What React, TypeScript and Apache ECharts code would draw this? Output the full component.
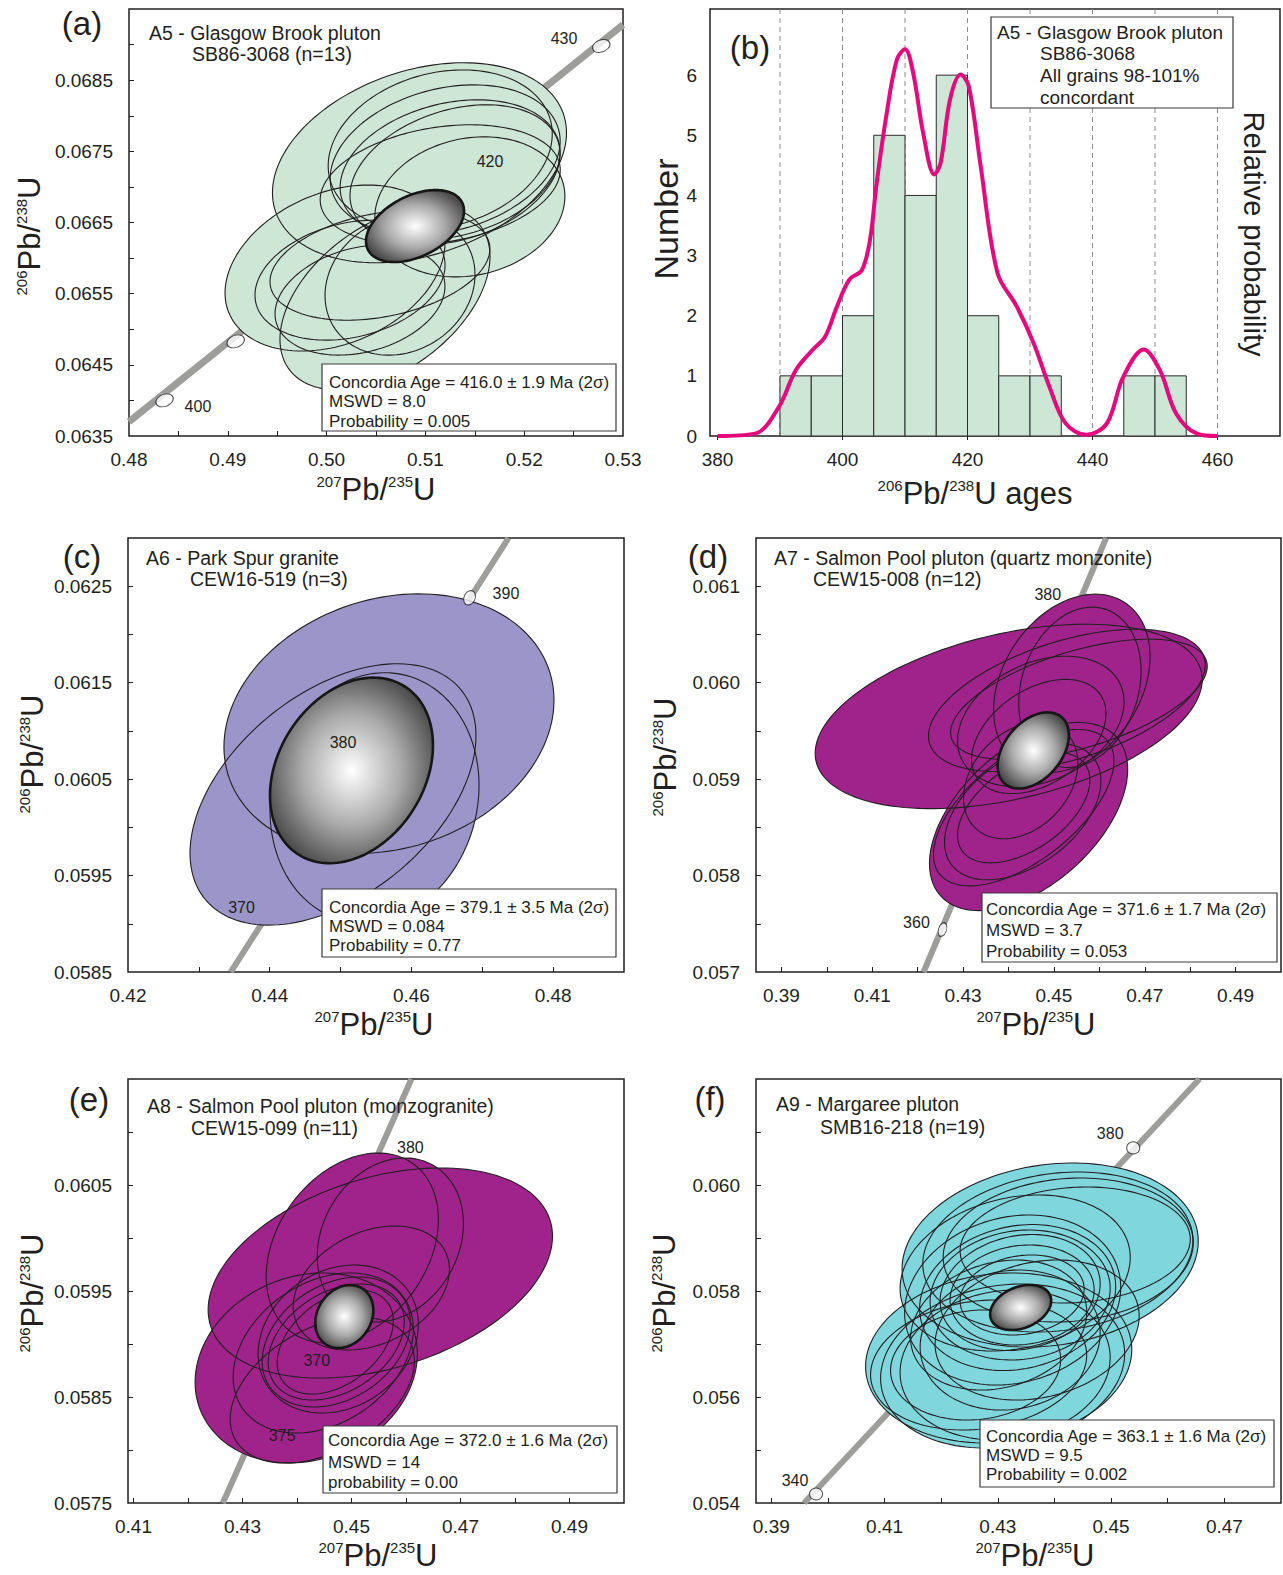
import React, { useEffect, useRef } from 'react';
import * as echarts from 'echarts';

const FONT = '"Liberation Sans", Arial, Helvetica, sans-serif';
const INK = '#231f20';
const GREY_LINE = '#9d9d9c';
const FILL_A = '#cde6d5';
const FILL_C = '#9b95c9';
const FILL_DE = '#a0228b';
const FILL_F = '#7fd7dd';
const PROB_COLOR = '#e4097d';

// ---------------- panel (a) ----------------
const xLabelsA = [0.48, 0.49, 0.5, 0.51, 0.52, 0.53];
const xTicksA = [0.485, 0.49, 0.495, 0.5, 0.505, 0.51, 0.515, 0.52, 0.525];
const yLabelsA = [0.0635, 0.0645, 0.0655, 0.0665, 0.0675, 0.0685];
const yTicksA = [0.064, 0.0645, 0.065, 0.0655, 0.066, 0.0665, 0.067, 0.0675, 0.068, 0.0685, 0.069];
// [centre 207/235, centre 206/238, half-width, half-height, correlation]
const ellipsesA = [
  [0.5094, 0.06734, 0.01488, 0.001405, 0.3],
  [0.5115, 0.06752, 0.01134, 0.001124, 0.2],
  [0.512, 0.06738, 0.01164, 0.001054, 0.25],
  [0.5125, 0.06724, 0.01113, 0.000984, 0.25],
  [0.513, 0.06717, 0.01063, 0.000984, 0.3],
  [0.5115, 0.06703, 0.01215, 0.000843, 0.25],
  [0.5145, 0.06672, 0.00962, 0.000984, 0.15],
  [0.50085, 0.06586, 0.01113, 0.001166, 0.3],
  [0.50591, 0.06544, 0.01063, 0.001293, 0.45],
  [0.50237, 0.06569, 0.00962, 0.000843, 0.25],
  [0.5054, 0.0659, 0.01113, 0.000773, 0.3],
  [0.50743, 0.06562, 0.00759, 0.000984, 0.15],
  [0.50338, 0.06541, 0.0086, 0.000773, 0.25],
];
const meanA = [[0.50895, 0.06645, 0.00496, 0.000506, 0.42]];
const concordiaA = [[0.48, 0.0637], [0.53, 0.06928]];
const markersA = [[0.4836, 0.064], [0.4908, 0.06483], [0.5278, 0.06898]];
const ageLabelsA = [
  { age: '400', x: 0.48698, y: 0.06391 },
  { age: '430', x: 0.52403, y: 0.06909 },
  { age: '420', x: 0.51654, y: 0.06736 },
];

// ---------------- panel (b) ----------------
const xLabelsB = [380, 400, 420, 440, 460];
const yLabelsB = [0, 1, 2, 3, 4, 5, 6];
const guideAgesB = [390, 400, 410, 420, 430, 440, 450, 460];
const binWidthB = 5;
const binStartsB = [390, 395, 400, 405, 410, 415, 420, 425, 430, 445, 450];
const countsB = [1, 1, 2, 5, 4, 6, 2, 1, 1, 1, 1];
const probAgesB = [380, 386, 389.8, 392.5, 395.2, 397.2, 399.1, 401.1, 403.1, 404.4, 405.4, 407, 408.7, 410, 411.3, 412.9, 414.7, 415.7, 417.2, 418.9, 420.2, 422.1, 424.8, 427.9, 430.6, 433.1, 435.7, 439, 442.3, 444.9, 448.2, 450.8, 453.4, 456.7, 460];
const probValuesB = [0, 0.04, 0.48, 1.09, 1.43, 1.65, 2.15, 2.6, 2.76, 3.26, 4.15, 5.32, 6.26, 6.43, 6.04, 5.04, 4.35, 4.54, 5.59, 6.01, 5.82, 4.49, 2.71, 2.15, 1.54, 0.82, 0.21, 0.02, 0.21, 0.98, 1.44, 1.09, 0.37, 0.04, 0];

// ---------------- panel (c) ----------------
const xLabelsC = [0.42, 0.44, 0.46, 0.48];
const xTicksC = [0.43, 0.44, 0.45, 0.46, 0.47, 0.48];
const yLabelsC = [0.0585, 0.0595, 0.0605, 0.0615, 0.0625];
const yTicksC = [0.059, 0.0595, 0.06, 0.0605, 0.061, 0.0615, 0.062, 0.0625];
const ellipsesC = [
  [0.45683, 0.061076, 0.02329, 0.001345, 0.18],
  [0.44893, 0.060341, 0.02018, 0.001355, 0.45],
  [0.45479, 0.060305, 0.01475, 0.001298, 0.1],
];
const meanC = [[0.45154, 0.06059, 0.0115, 0.000962, 0.27]];
const concordiaC = [[0.4345, 0.0585], [0.4737, 0.063]];
const markersC = [[0.4682, 0.06238]];
const ageLabelsC = [
  { age: '390', x: 0.47334, y: 0.06242 },
  { age: '380', x: 0.45034, y: 0.06088 },
  { age: '370', x: 0.43602, y: 0.05917 },
];

// ---------------- panel (d) ----------------
const xLabelsD = [0.39, 0.41, 0.43, 0.45, 0.47, 0.49];
const xTicksD = [0.39, 0.4, 0.41, 0.42, 0.43, 0.44, 0.45, 0.46, 0.47, 0.48, 0.49];
const yLabelsD = [0.057, 0.058, 0.059, 0.06, 0.061];
const yTicksD = [0.0575, 0.058, 0.0585, 0.059, 0.0595, 0.06, 0.0605, 0.061];
const ellipsesD = [
  [0.44004, 0.05965, 0.04261, 0.000956, 0.4],
  [0.45285, 0.059816, 0.03047, 0.000738, 0.5],
  [0.4555, 0.059827, 0.02826, 0.000624, 0.55],
  [0.45395, 0.059993, 0.01722, 0.000925, 0.3],
  [0.45572, 0.059952, 0.01347, 0.000831, 0.2],
  [0.44711, 0.059598, 0.01833, 0.000676, 0.3],
  [0.44667, 0.059442, 0.01479, 0.000592, 0.4],
  [0.44442, 0.058612, 0.02182, 0.000976, 0.5],
  [0.44335, 0.058704, 0.01987, 0.000811, 0.6],
  [0.44313, 0.058663, 0.01722, 0.000707, 0.45],
  [0.44335, 0.058704, 0.01457, 0.000572, 0.5],
  [0.44269, 0.058985, 0.01259, 0.000603, 0.3],
];
const meanD = [[0.44545, 0.059297, 0.00784, 0.000395, 0.4]];
const concordiaD = [[0.4213, 0.057], [0.4615, 0.0615]];
const markersD = [[0.42547, 0.05744]];
const ageLabelsD = [
  { age: '380', x: 0.44865, y: 0.06091 },
  { age: '360', x: 0.41973, y: 0.05751 },
];

// ---------------- panel (e) ----------------
const xLabelsE = [0.41, 0.43, 0.45, 0.47, 0.49];
const xTicksE = [0.41, 0.42, 0.43, 0.44, 0.45, 0.46, 0.47, 0.48, 0.49];
const yLabelsE = [0.0575, 0.0585, 0.0595, 0.0605];
const yTicksE = [0.058, 0.0585, 0.059, 0.0595, 0.06, 0.0605, 0.061];
const ellipsesE = [
  [0.45529, 0.05967, 0.03159, 0.000991, 0.35],
  [0.4417, 0.058774, 0.02039, 0.000896, 0.15],
  [0.45015, 0.059906, 0.0158, 0.000896, 0.3],
  [0.45713, 0.059981, 0.01341, 0.000774, 0.2],
  [0.45364, 0.059528, 0.01433, 0.000585, 0.3],
  [0.44757, 0.059047, 0.0147, 0.000698, 0.2],
  [0.44482, 0.058915, 0.01653, 0.000755, 0.3],
  [0.44721, 0.059019, 0.01359, 0.000613, 0.3],
  [0.44721, 0.059019, 0.01249, 0.000547, 0.35],
  [0.44702, 0.059019, 0.01065, 0.000491, 0.4],
  [0.44464, 0.058566, 0.0169, 0.000689, 0.4],
];
const meanE = [[0.44868, 0.059259, 0.00533, 0.000297, 0.2]];
const concordiaE = [[0.4264, 0.0575], [0.461, 0.0615]];
const markersE: number[][] = [];
const ageLabelsE = [
  { age: '380', x: 0.4608, y: 0.06085 },
  { age: '370', x: 0.44363, y: 0.05884 },
  { age: '375', x: 0.43729, y: 0.05814 },
];

// ---------------- panel (f) ----------------
const xLabelsF = [0.39, 0.41, 0.43, 0.45, 0.47];
const xTicksF = [0.39, 0.4, 0.41, 0.42, 0.43, 0.44, 0.45, 0.46, 0.47];
const yLabelsF = [0.054, 0.056, 0.058, 0.06];
const yTicksF = [0.055, 0.056, 0.057, 0.058, 0.059, 0.06, 0.061];
const ellipsesF = [
  [0.43924, 0.058679, 0.02615, 0.001736, 0.15],
  [0.4406, 0.058736, 0.02385, 0.001509, 0.15],
  [0.44243, 0.058774, 0.02208, 0.001358, 0.1],
  [0.44366, 0.058868, 0.02032, 0.001094, 0.1],
  [0.43306, 0.05834, 0.02032, 0.001472, 0.2],
  [0.43262, 0.05783, 0.01908, 0.001604, 0.15],
  [0.4335, 0.057877, 0.01731, 0.001377, 0.15],
  [0.43394, 0.057925, 0.0159, 0.001226, 0.1],
  [0.43394, 0.057972, 0.01413, 0.001094, 0.15],
  [0.43429, 0.057925, 0.01272, 0.000943, 0.1],
  [0.43429, 0.057925, 0.01095, 0.000755, 0.15],
  [0.43015, 0.057358, 0.01555, 0.001226, 0.2],
  [0.43015, 0.056736, 0.0235, 0.001604, 0.1],
  [0.43085, 0.056585, 0.02155, 0.001547, 0.15],
  [0.43129, 0.056604, 0.01855, 0.001415, 0.1],
  [0.42661, 0.056604, 0.01908, 0.001226, 0.15],
  [0.42608, 0.056604, 0.01502, 0.001038, 0.1],
  [0.43218, 0.057075, 0.0159, 0.001321, 0.1],
  [0.43694, 0.057264, 0.01802, 0.001321, 0.2],
];
const meanF = [[0.43403, 0.057689, 0.00539, 0.000425, 0.3]];
const concordiaF = [[0.3958, 0.054], [0.4656, 0.062]];
const markersF = [[0.3979, 0.05417], [0.45391, 0.0607]];
const ageLabelsF = [
  { age: '380', x: 0.44984, y: 0.06098 },
  { age: '340', x: 0.39419, y: 0.05442 },
];

// ---------------- helpers ----------------
function ellipseSeries(idx: number, data: number[][], style: any, z: number, gradient = false) {
  return {
    type: 'custom',
    xAxisIndex: idx,
    yAxisIndex: idx,
    z,
    silent: true,
    data,
    renderItem: (_params: any, api: any) => {
      const cx = api.value(0);
      const cy = api.value(1);
      const sx = api.value(2);
      const sy = api.value(3);
      const r = api.value(4);
      const k = Math.sqrt(Math.max(0, 1 - r * r));
      const points: number[][] = [];
      const N = 144;
      for (let i = 0; i < N; i++) {
        const t = (i / N) * Math.PI * 2;
        points.push(api.coord([cx + sx * Math.cos(t), cy + sy * (r * Math.cos(t) + k * Math.sin(t))]));
      }
      const st = gradient
        ? {
            ...style,
            fill: new echarts.graphic.RadialGradient(0.5, 0.5, 0.55, [
              { offset: 0, color: '#ffffff' },
              { offset: 0.55, color: '#aaaaaa' },
              { offset: 1, color: '#4d4d4d' },
            ]),
          }
        : style;
      return { type: 'polygon', shape: { points }, style: st };
    },
  };
}

function concordiaSeries(idx: number, p: any) {
  const list: any[] = [
    {
      type: 'line', xAxisIndex: idx, yAxisIndex: idx, data: p.line, symbol: 'none', silent: true, z: 1,
      lineStyle: { color: GREY_LINE, width: p.lineWidth }, clip: true,
    },
    ellipseSeries(idx, p.ellipses, { fill: p.fill, stroke: 'none' }, 3),
    ellipseSeries(idx, p.ellipses, { fill: 'none', stroke: INK, lineWidth: 1.1 }, 4),
    ellipseSeries(idx, p.mean, { stroke: '#161616', lineWidth: 2.6 }, 5, true),
    {
      type: 'scatter', xAxisIndex: idx, yAxisIndex: idx, data: p.markers, silent: true, z: 6,
      symbol: 'circle', symbolSize: p.markerSize, symbolRotate: p.markerRotate,
      itemStyle: { color: '#ffffff', borderColor: INK, borderWidth: 1 },
    },
    {
      type: 'custom', xAxisIndex: idx, yAxisIndex: idx, silent: true, z: 7,
      data: p.labels.map((l: any) => [l.x, l.y]),
      renderItem: (params: any, api: any) => {
        const pt = api.coord([api.value(0), api.value(1)]);
        return {
          type: 'text',
          x: pt[0],
          y: pt[1],
          style: {
            text: p.labels[params.dataIndex].age,
            fontSize: 16,
            fontFamily: FONT,
            fill: INK,
            align: 'center',
            verticalAlign: 'middle',
            textAlign: 'center',
            textVerticalAlign: 'middle',
          },
        };
      },
    },
  ];
  return list;
}

function axis(gi: number, min: number, max: number, ticks: number[], labels: number[], dec: number, margin: number, inside = true, tickLen = 5) {
  return {
    type: 'value',
    gridIndex: gi,
    min,
    max,
    axisLine: { show: false },
    splitLine: { show: false },
    axisTick: { show: ticks.length > 0, inside, length: tickLen, customValues: ticks, lineStyle: { color: INK, width: 1 } },
    axisLabel: {
      customValues: labels,
      formatter: (v: number) => v.toFixed(dec),
      fontSize: 19,
      fontFamily: FONT,
      color: INK,
      margin,
      showMinLabel: true,
      showMaxLabel: true,
    },
  };
}

function txt(x: number, y: number, text: string, size: number, align = 'left', rotation = 0) {
  return {
    type: 'text', x, y, rotation, z: 40, silent: true,
    style: {
      text, fontSize: size, fontFamily: FONT, fill: INK,
      align, verticalAlign: 'middle', textAlign: align, textVerticalAlign: 'middle',
    },
  };
}

function axisTitle(x: number, y: number, a: string, b: string, tail = '', rotation = 0) {
  return {
    type: 'text', x, y, rotation, z: 40, silent: true,
    style: {
      text: `{s|${a}}{b|Pb/}{s|${b}}{b|U${tail}}`,
      rich: {
        s: { fontSize: 15, fontFamily: FONT, fill: INK, color: INK, verticalAlign: 'top' },
        b: { fontSize: 31, fontFamily: FONT, fill: INK, color: INK, verticalAlign: 'bottom' },
      },
      fontFamily: FONT,
      align: 'center', verticalAlign: 'middle', textAlign: 'center', textVerticalAlign: 'middle',
    },
  };
}

function statBox(x: number, y: number, w: number, h: number, tx: number, ty: number[], lines: string[]) {
  return [
    { type: 'rect', z: 35, silent: true, shape: { x, y, width: w, height: h }, style: { fill: '#ffffff', stroke: '#3a3a3a', lineWidth: 1.2 } },
    ...lines.map((l, i) => txt(tx, ty[i], l, 17)),
  ];
}

function buildOption() {
  const gridBase = { show: true, borderColor: INK, borderWidth: 1.5, backgroundColor: 'transparent', containLabel: false };
  const grid = [
    { left: 129, top: 9, width: 494, height: 427 },
    { left: 710, top: 9, width: 570, height: 427 },
    { left: 128, top: 538, width: 496, height: 434 },
    { left: 756, top: 538, width: 525, height: 434 },
    { left: 128, top: 1079, width: 496, height: 424 },
    { left: 756, top: 1079, width: 525, height: 424 },
  ].map((g) => ({ ...gridBase, ...g }));

  const xAxis = [
    axis(0, 0.48, 0.53, xTicksA, xLabelsA, 2, 14),
    axis(1, 378.8, 470, xLabelsB, xLabelsB, 0, 14, false, 4),
    axis(2, 0.42, 0.49, xTicksC, xLabelsC, 2, 14),
    axis(3, 0.3844, 0.5, xTicksD, xLabelsD, 2, 14),
    axis(4, 0.409, 0.5, xTicksE, xLabelsE, 2, 14),
    axis(5, 0.3873, 0.48, xTicksF, xLabelsF, 2, 14),
  ];
  const yAxis = [
    axis(0, 0.0635, 0.0695, yTicksA, yLabelsA, 4, 16),
    axis(1, 0, 7.1, [], yLabelsB, 0, 13),
    axis(2, 0.0585, 0.063, yTicksC, yLabelsC, 4, 16),
    axis(3, 0.057, 0.0615, yTicksD, yLabelsD, 3, 16),
    axis(4, 0.0575, 0.0615, yTicksE, yLabelsE, 4, 16),
    axis(5, 0.054, 0.062, yTicksF, yLabelsF, 3, 16),
  ];

  const series: any[] = [
    ...concordiaSeries(0, { line: concordiaA, lineWidth: 7, ellipses: ellipsesA, mean: meanA, fill: FILL_A, markers: markersA, markerSize: [18, 12], markerRotate: 22, labels: ageLabelsA }),
    ...concordiaSeries(2, { line: concordiaC, lineWidth: 6, ellipses: ellipsesC, mean: meanC, fill: FILL_C, markers: markersC, markerSize: [11, 15], markerRotate: -25, labels: ageLabelsC }),
    ...concordiaSeries(3, { line: concordiaD, lineWidth: 6, ellipses: ellipsesD, mean: meanD, fill: FILL_DE, markers: markersD, markerSize: [8, 14], markerRotate: -18, labels: ageLabelsD }),
    ...concordiaSeries(4, { line: concordiaE, lineWidth: 6, ellipses: ellipsesE, mean: meanE, fill: FILL_DE, markers: markersE, markerSize: [10, 10], markerRotate: 0, labels: ageLabelsE }),
    ...concordiaSeries(5, { line: concordiaF, lineWidth: 6, ellipses: ellipsesF, mean: meanF, fill: FILL_F, markers: markersF, markerSize: [13, 12], markerRotate: 0, labels: ageLabelsF }),
    // panel (b)
    {
      type: 'custom', xAxisIndex: 1, yAxisIndex: 1, z: 1, silent: true,
      data: guideAgesB.map((a) => [a, 0]),
      renderItem: (params: any, api: any) => {
        const px = api.coord([api.value(0), 0])[0];
        const cs = params.coordSys;
        return {
          type: 'line',
          shape: { x1: px, y1: cs.y, x2: px, y2: cs.y + cs.height },
          style: { stroke: '#8c8c8c', lineWidth: 1, lineDash: [5, 4] },
        };
      },
    },
    {
      type: 'custom', xAxisIndex: 1, yAxisIndex: 1, z: 3, silent: true,
      data: binStartsB.map((s, i) => [s, s + binWidthB, countsB[i]]),
      renderItem: (_params: any, api: any) => {
        const p0 = api.coord([api.value(0), api.value(2)]);
        const p1 = api.coord([api.value(1), 0]);
        return {
          type: 'rect',
          shape: { x: p0[0], y: p0[1], width: p1[0] - p0[0], height: p1[1] - p0[1] },
          style: { fill: FILL_A, stroke: '#2b2b2b', lineWidth: 1 },
        };
      },
    },
    {
      type: 'line', xAxisIndex: 1, yAxisIndex: 1, z: 5, silent: true, symbol: 'none', smooth: 0.35,
      data: probAgesB.map((a, i) => [a, probValuesB[i]]),
      lineStyle: { color: PROB_COLOR, width: 4 },
    },
  ];

  const graphic: any[] = [
    // (a)
    txt(82, 23, '(a)', 33, 'center'),
    txt(149, 33, 'A5 - Glasgow Brook pluton', 19.5),
    txt(192, 54, 'SB86-3068 (n=13)', 19.5),
    ...statBox(322, 364, 294, 67, 329, [382, 401, 421], ['Concordia Age = 416.0 ± 1.9 Ma (2σ)', 'MSWD = 8.0', 'Probability = 0.005']),
    axisTitle(376, 489, '207', '235'),
    axisTitle(29, 236, '206', '238', '', Math.PI / 2),
    // (b)
    txt(750, 47, '(b)', 33, 'center'),
    { type: 'rect', z: 35, silent: true, shape: { x: 991, y: 17, width: 242, height: 91 }, style: { fill: '#ffffff', stroke: '#3a3a3a', lineWidth: 1.2 } },
    txt(997, 32, 'A5 - Glasgow Brook pluton', 19),
    txt(1040, 53, 'SB86-3068', 19),
    txt(1040, 75, 'All grains 98-101%', 19),
    txt(1040, 97, 'concordant', 19),
    txt(666, 219, 'Number', 34, 'center', Math.PI / 2),
    txt(1254, 234, 'Relative probability', 29, 'center', -Math.PI / 2),
    axisTitle(975, 493, '206', '238', ' ages'),
    // (c)
    txt(82, 556, '(c)', 33, 'center'),
    txt(146, 558, 'A6 - Park Spur granite', 19.5),
    txt(190, 579, 'CEW16-519 (n=3)', 19.5),
    ...statBox(322, 889, 294, 68, 329, [907, 926, 945], ['Concordia Age = 379.1 ± 3.5 Ma (2σ)', 'MSWD = 0.084', 'Probability = 0.77']),
    axisTitle(374, 1024, '207', '235'),
    axisTitle(32, 754, '206', '238', '', Math.PI / 2),
    // (d)
    txt(708, 556, '(d)', 33, 'center'),
    txt(774, 558, 'A7 - Salmon Pool pluton (quartz monzonite)', 19.5),
    txt(813, 579, 'CEW15-008 (n=12)', 19.5),
    ...statBox(982, 893, 295, 69, 986, [909, 930, 951], ['Concordia Age = 371.6 ± 1.7 Ma (2σ)', 'MSWD = 3.7', 'Probability = 0.053']),
    axisTitle(1036, 1024, '207', '235'),
    axisTitle(665, 757, '206', '238', '', Math.PI / 2),
    // (e)
    txt(89, 1099, '(e)', 33, 'center'),
    txt(147, 1106, 'A8 - Salmon Pool pluton (monzogranite)', 19.5),
    txt(191, 1128, 'CEW15-099 (n=11)', 19.5),
    ...statBox(323, 1426, 294, 67, 328, [1440, 1462, 1482], ['Concordia Age = 372.0 ± 1.6 Ma (2σ)', 'MSWD = 14', 'probability = 0.00']),
    axisTitle(378, 1555, '207', '235'),
    axisTitle(32, 1293, '206', '238', '', Math.PI / 2),
    // (f)
    txt(710, 1098, '(f)', 33, 'center'),
    txt(776, 1104, 'A9 - Margaree pluton', 19.5),
    txt(820, 1127, 'SMB16-218 (n=19)', 19.5),
    ...statBox(980, 1420, 294, 67, 986, [1436, 1455, 1474], ['Concordia Age = 363.1 ± 1.6 Ma (2σ)', 'MSWD = 9.5', 'Probability = 0.002']),
    axisTitle(1035, 1555, '207', '235'),
    axisTitle(664, 1293, '206', '238', '', Math.PI / 2),
  ];

  return {
    animation: false,
    backgroundColor: '#ffffff',
    textStyle: { fontFamily: FONT },
    grid,
    xAxis,
    yAxis,
    series,
    graphic,
  };
}

export default function App() {
  const ref = useRef<HTMLDivElement>(null);
  useEffect(() => {
    if (!ref.current) return;
    const chart = echarts.init(ref.current, null, { renderer: 'svg' });
    chart.setOption(buildOption() as any);
    return () => {
      chart.dispose();
    };
  }, []);
  return (
    <div
      ref={ref}
      style={{ position: 'absolute', left: 0, top: 0, width: 1283, height: 1575, background: '#ffffff' }}
    />
  );
}
